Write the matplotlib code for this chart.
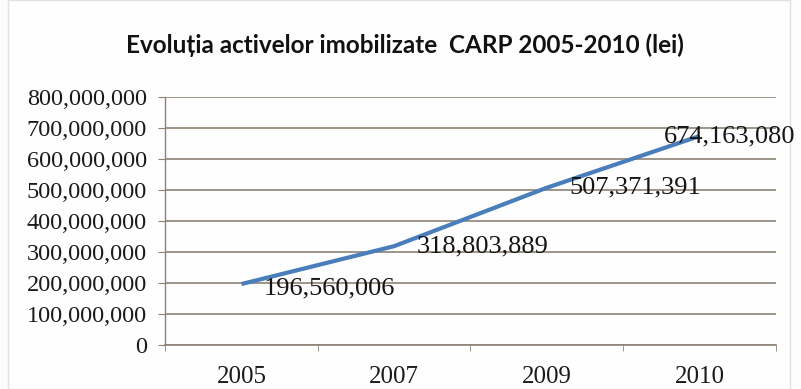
#!/usr/bin/env python3
"""Evolutia activelor imobilizate CARP 2005-2010 - line chart."""

import matplotlib.pyplot as plt
from matplotlib.patches import Rectangle
from matplotlib.ticker import FuncFormatter, MultipleLocator

years = ["2005", "2007", "2009", "2010"]
fixed_assets_lei = [196560006, 318803889, 507371391, 674163080]

LINE_BLUE = "#4a7ebb"
GRID = "#8c8276"
# label offsets in points; the last one is pulled left so it stays inside the frame
LABEL_OFFSETS = [(16, -3), (16, 0), (16, 0), (-26, 0)]


def main() -> int:
    plt.rcParams["font.family"] = ["Liberation Serif", "DejaVu Serif"]
    fig = plt.figure(figsize=(8.01, 3.89), dpi=100, facecolor="#fcfcfc")
    fig.patches.append(Rectangle((8 / 801, 0.0), 782 / 801, 1.0, transform=fig.transFigure,
                                 facecolor="#fefefe", edgecolor="#e2e2e2", linewidth=1.0, zorder=-5))
    ax = fig.add_axes([165 / 801, 1 - 345 / 389, 611 / 801, 248 / 389])
    ax.set_facecolor("#fefefe")

    x = range(len(years))
    ax.plot(x, fixed_assets_lei, color=LINE_BLUE, linewidth=3, solid_capstyle="butt", zorder=3)
    for xi, val, off in zip(x, fixed_assets_lei, LABEL_OFFSETS):
        ax.annotate(f"{val:,}", (xi, val), xytext=off, textcoords="offset points",
                    ha="left", va="center", fontsize=19, color="#151515", zorder=4,
                    annotation_clip=False)

    ax.set_xlim(-0.5, len(years) - 0.5)
    ax.set_ylim(0, 800_000_000)
    ax.yaxis.set_major_locator(MultipleLocator(100_000_000))
    ax.yaxis.set_major_formatter(FuncFormatter(lambda v, _: f"{int(v):,}"))
    ax.grid(axis="y", color=GRID, linewidth=1.2)
    ax.set_axisbelow(True)

    ax.set_xticks(list(x))
    ax.set_xticklabels(years)
    ax.set_xticks([i + 0.5 for i in range(-1, len(years))], minor=True)
    ax.tick_params(axis="x", which="major", length=0, pad=15, labelsize=18, labelcolor="#1a1a1a")
    ax.tick_params(axis="x", which="minor", length=4, color=GRID, direction="out")
    ax.tick_params(axis="y", length=5, color=GRID, labelsize=17.5, pad=8, labelcolor="#1a1a1a")

    for side in ("top", "right"):
        ax.spines[side].set_visible(False)
    ax.spines["left"].set_color(GRID)
    ax.spines["bottom"].set_color(GRID)
    ax.spines["left"].set_linewidth(1.0)
    ax.spines["bottom"].set_linewidth(1.2)

    fig.text(405 / 801, 1 - 45 / 389, "Evoluția activelor imobilizate  CARP 2005-2010 (lei)",
             ha="center", va="center", fontsize=17.5, fontweight="bold",
             family="Lato", color="#111111")

    fig.savefig("out.png", dpi=100, facecolor=fig.get_facecolor())
    plt.close(fig)
    return 0


if __name__ == "__main__":
    raise SystemExit(main())
